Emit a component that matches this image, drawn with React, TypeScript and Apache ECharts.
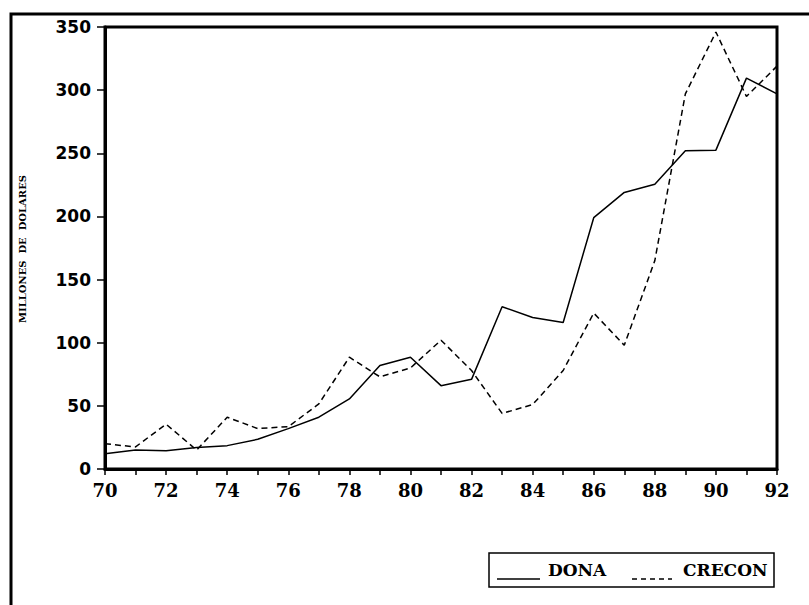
import React, { useEffect, useRef } from "react";
import * as echarts from "echarts";

const years = [70, 71, 72, 73, 74, 75, 76, 77, 78, 79, 80, 81, 82, 83, 84, 85, 86, 87, 88, 89, 90, 91, 92];
const dona = [12, 15, 14.5, 17, 18.5, 23.5, 32, 41, 55.5, 82, 88.5, 66, 71, 128.5, 120, 116, 199, 219, 225.5, 252, 252.5, 309.5, 297];
const crecon = [20, 17.5, 35.5, 15, 41, 32, 33.5, 51.5, 88.5, 73, 80, 102, 78, 44, 51, 78, 123.5, 98, 165, 297, 346, 295, 319];
const yTitle = "MILLONES  DE  DOLARES";
const seriesNames = ["DONA", "CRECON"];

export default function App() {
  const ref = useRef<HTMLDivElement>(null);
  useEffect(() => {
    if (!ref.current) return;
    const chart = echarts.init(ref.current, null, { renderer: "svg" });
    const serif = "DejaVu Serif";
    chart.setOption({
      animation: false,
      backgroundColor: "#ffffff",
      grid: {
        left: 105,
        top: 27,
        right: 32,
        bottom: 136,
        show: true,
        borderColor: "#000",
        borderWidth: 3,
        containLabel: false,
      },
      xAxis: {
        type: "value",
        min: 70,
        max: 92,
        interval: 2,
        axisLine: { show: true, onZero: false, lineStyle: { color: "#000", width: 3 } },
        axisTick: { show: true, length: 6, lineStyle: { color: "#000", width: 1.5 } },
        minorTick: { show: true, splitNumber: 2, length: 6, lineStyle: { color: "#000", width: 1.5 } },
        splitLine: { show: false },
        axisLabel: {
          color: "#000",
          fontFamily: serif,
          fontWeight: "bold",
          fontSize: 18,
          margin: 12,
        },
      },
      yAxis: {
        type: "value",
        min: 0,
        max: 350,
        interval: 50,
        axisLine: { show: true, lineStyle: { color: "#000", width: 3 } },
        axisTick: { show: true, length: 8, lineStyle: { color: "#000", width: 1.5 } },
        splitLine: { show: false },
        axisLabel: {
          color: "#000",
          fontFamily: "DejaVu Sans",
          fontWeight: "bold",
          fontSize: 17,
          margin: 14,
        },
      },
      series: [
        {
          name: seriesNames[0],
          type: "line",
          data: years.map((y, i) => [y, dona[i]]),
          showSymbol: false,
          symbol: "none",
          lineStyle: { color: "#000", width: 1.5, type: "solid" },
        },
        {
          name: seriesNames[1],
          type: "line",
          data: years.map((y, i) => [y, crecon[i]]),
          showSymbol: false,
          symbol: "none",
          lineStyle: { color: "#000", width: 1.5, type: [6, 4] },
        },
      ],
      graphic: [
        {
          type: "polyline",
          shape: { points: [[11, 620], [11, 14], [820, 14]] },
          style: { stroke: "#000", lineWidth: 3, fill: null },
          silent: true,
        },
        {
          type: "text",
          x: 22,
          y: 249,
          rotation: Math.PI / 2,
          style: {
            text: yTitle,
            fill: "#000",
            font: "bold 10px 'DejaVu Serif'",
            align: "center",
            verticalAlign: "middle",
          },
        },
        {
          type: "rect",
          shape: { x: 489, y: 553, width: 285, height: 34 },
          style: { fill: "#fff", stroke: "#000", lineWidth: 1.5 },
        },
        {
          type: "line",
          shape: { x1: 497, y1: 579, x2: 540, y2: 579 },
          style: { stroke: "#000", lineWidth: 1.5 },
        },
        {
          type: "text",
          x: 548,
          y: 570,
          style: {
            text: seriesNames[0],
            fill: "#000",
            font: "bold 17px 'DejaVu Serif'",
            align: "left",
            verticalAlign: "middle",
          },
        },
        {
          type: "line",
          shape: { x1: 632, y1: 579, x2: 672, y2: 579 },
          style: { stroke: "#000", lineWidth: 1.5, lineDash: [5, 4] },
        },
        {
          type: "text",
          x: 683,
          y: 570,
          style: {
            text: seriesNames[1],
            fill: "#000",
            font: "bold 17px 'DejaVu Serif'",
            align: "left",
            verticalAlign: "middle",
          },
        },
      ],
    });
    return () => chart.dispose();
  }, []);
  return (
    <div
      ref={ref}
      style={{ position: "fixed", left: 0, top: 0, width: 809, height: 605, background: "#fff" }}
    />
  );
}
